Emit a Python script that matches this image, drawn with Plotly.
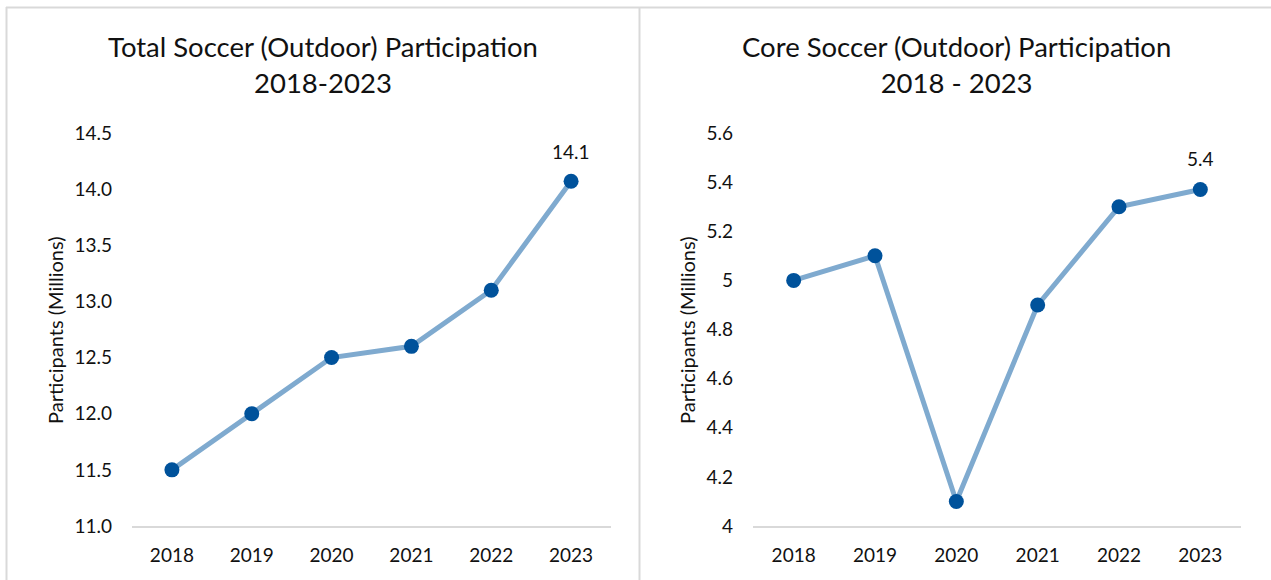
import plotly.graph_objects as go

years = ["2018", "2019", "2020", "2021", "2022", "2023"]
total_values = [11.5, 12.0, 12.5, 12.6, 13.1, 14.07]
core_values = [5.0, 5.1, 4.1, 4.9, 5.3, 5.37]
total_title = "Total Soccer (Outdoor) Participation<br>2018-2023"
core_title = "Core Soccer (Outdoor) Participation<br>2018 - 2023"
y_title = "Participants (Millions)"
total_last_label = "14.1"
core_last_label = "5.4"

W, H = 1271, 580
FONT = "Lato"
LINE_COLOR = "#7faacf"
MARKER_COLOR = "#00529b"
BORDER = "#d9d9d9"
TEXT = "#111111"

def px(x):
    return x / W

def py(y):
    return (H - y) / H

fig = go.Figure()
fig.add_trace(go.Scatter(x=years, y=total_values, mode="lines+markers",
                         line=dict(color=LINE_COLOR, width=5),
                         marker=dict(color=MARKER_COLOR, size=15),
                         xaxis="x", yaxis="y", showlegend=False, hoverinfo="x+y"))
fig.add_trace(go.Scatter(x=years, y=core_values, mode="lines+markers",
                         line=dict(color=LINE_COLOR, width=5),
                         marker=dict(color=MARKER_COLOR, size=15),
                         xaxis="x2", yaxis="y2", showlegend=False, hoverinfo="x+y"))

xcommon = dict(type="category", range=[-0.5, 5.5], showgrid=False, zeroline=False,
               showline=True, linecolor=BORDER, linewidth=2, ticks="",
               ticklabelstandoff=11, automargin=False,
               tickfont=dict(family=FONT, size=19, color=TEXT), fixedrange=True)
ycommon = dict(showgrid=False, zeroline=False, showline=False, ticks="",
               ticklabelstandoff=19, automargin=False,
               tickfont=dict(family=FONT, size=19, color=TEXT), fixedrange=True)

fig.update_layout(
    width=W, height=H,
    margin=dict(l=0, r=0, t=0, b=0, pad=0, autoexpand=False),
    paper_bgcolor="white", plot_bgcolor="white",
    xaxis=dict(domain=[px(132), px(611)], anchor="y", **xcommon),
    yaxis=dict(domain=[py(526), py(133)], anchor="x", range=[11, 14.5],
               dtick=0.5, tick0=11, tickformat=".1f", **ycommon),
    xaxis2=dict(domain=[px(753), px(1241)], anchor="y2", **xcommon),
    yaxis2=dict(domain=[py(526), py(133)], anchor="x2", range=[4, 5.6],
                dtick=0.2, tick0=4, **ycommon),
)

last = len(years) - 1
annotations = [
    dict(text=total_title, x=px(323), y=py(65), xref="paper", yref="paper",
         xanchor="center", yanchor="middle", showarrow=False,
         font=dict(family=FONT, size=27.5, color=TEXT)),
    dict(text=core_title, x=px(956), y=py(65), xref="paper", yref="paper",
         xanchor="center", yanchor="middle", showarrow=False,
         font=dict(family=FONT, size=27.5, color=TEXT)),
    dict(text=y_title, x=px(55), y=py(330), xref="paper", yref="paper",
         xanchor="center", yanchor="middle", showarrow=False, textangle=-90,
         font=dict(family=FONT, size=20, color=TEXT)),
    dict(text=y_title, x=px(687), y=py(330), xref="paper", yref="paper",
         xanchor="center", yanchor="middle", showarrow=False, textangle=-90,
         font=dict(family=FONT, size=20, color=TEXT)),
    dict(text=total_last_label, x=last, y=total_values[last], xref="x", yref="y",
         yshift=30, showarrow=False, font=dict(family=FONT, size=19, color=TEXT)),
    dict(text=core_last_label, x=last, y=core_values[last], xref="x2", yref="y2",
         yshift=31, showarrow=False, font=dict(family=FONT, size=19, color=TEXT)),
]
fig.update_layout(annotations=annotations)

shapes = [
    dict(type="line", xref="paper", yref="paper", x0=px(6), x1=1, y0=py(7.5), y1=py(7.5),
         line=dict(color=BORDER, width=2)),
    dict(type="line", xref="paper", yref="paper", x0=px(6.5), x1=px(6.5), y0=py(7), y1=0,
         line=dict(color=BORDER, width=2)),
    dict(type="line", xref="paper", yref="paper", x0=px(639.5), x1=px(639.5), y0=py(7), y1=0,
         line=dict(color=BORDER, width=2)),
]
fig.update_layout(shapes=shapes)

fig.write_html("out.html")
